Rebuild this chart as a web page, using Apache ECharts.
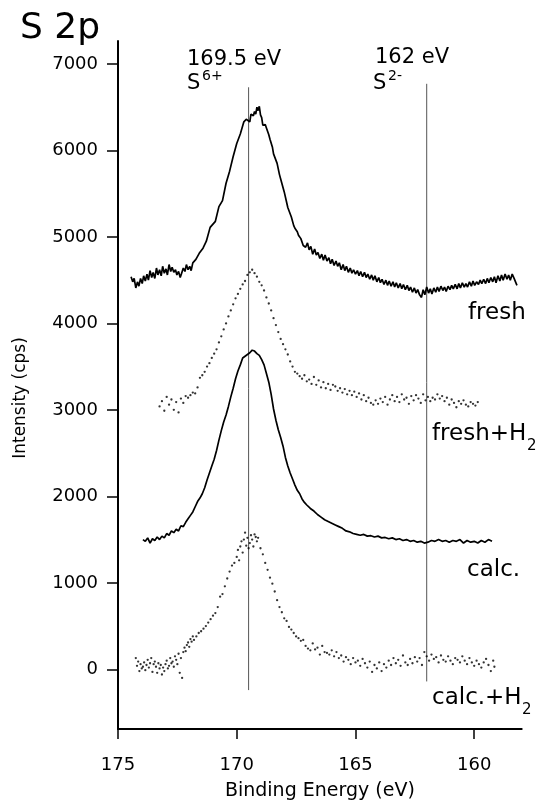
<!DOCTYPE html>
<html><head><meta charset="utf-8">
<script src="https://cdn.jsdelivr.net/npm/echarts@6/dist/echarts.min.js"></script>
<style>html,body{margin:0;padding:0;background:#fff}#c{width:537px;height:806px}</style>
</head><body><div id="c"></div>
<script>
// ---- data ----
var xTicks = [160, 165, 170, 175];
var yTicks = [0, 1000, 2000, 3000, 4000, 5000, 6000, 7000];

var freshE = [174.45,174.38,174.32,174.25,174.18,174.12,174.05,173.98,173.92,173.85,173.78,173.72,173.65,173.58,173.52,173.45,173.38,173.32,173.25,173.18,173.12,173.05,172.98,172.92,172.85,172.78,172.72,172.65,172.58,172.52,172.45,172.38,172.32,172.25,172.18,172.12,172.05,171.98,171.92,171.85,171.78,171.72,171.65,171.58,171.5,171.42,171.35,171.28,171.2,171.12,171.05,170.9,170.75,170.6,170.45,170.3,170.15,170.0,169.85,169.7,169.6,169.55,169.45,169.4,169.3,169.25,169.2,169.15,169.1,169.05,169.0,168.95,168.9,168.8,168.75,168.65,168.6,168.5,168.45,168.3,168.2,168.15,168.0,167.9,167.85,167.7,167.6,167.55,167.45,167.4,167.3,167.25,167.2,167.1,167.02,166.95,166.88,166.8,166.72,166.65,166.58,166.5,166.42,166.35,166.28,166.2,166.12,166.05,165.98,165.9,165.82,165.75,165.68,165.6,165.52,165.45,165.38,165.3,165.22,165.15,165.08,165.0,164.92,164.85,164.78,164.7,164.62,164.55,164.48,164.4,164.32,164.25,164.18,164.1,164.02,163.95,163.88,163.8,163.72,163.65,163.58,163.5,163.42,163.35,163.28,163.2,163.12,163.05,162.98,162.9,162.82,162.75,162.68,162.6,162.52,162.45,162.38,162.3,162.22,162.15,162.08,162.0,161.92,161.85,161.78,161.7,161.62,161.55,161.48,161.4,161.32,161.25,161.18,161.1,161.02,160.95,160.88,160.8,160.72,160.65,160.58,160.5,160.42,160.35,160.28,160.2,160.12,160.05,159.98,159.9,159.82,159.75,159.68,159.6,159.52,159.45,159.38,159.3,159.22,159.15,159.08,159.0,158.92,158.85,158.78,158.7,158.62,158.55,158.48,158.4,158.32,158.25,158.2];
var freshI = [4540,4480,4520,4410,4480,4430,4520,4460,4550,4490,4570,4500,4610,4530,4590,4520,4640,4560,4620,4550,4660,4580,4630,4560,4680,4600,4650,4590,4620,4560,4600,4530,4580,4640,4600,4680,4620,4660,4610,4700,4680,4740,4760,4810,4800,4870,4880,4950,4960,5110,5100,5180,5350,5420,5620,5760,5930,6080,6190,6330,6360,6380,6330,6420,6400,6450,6420,6500,6460,6510,6410,6380,6290,6300,6260,6180,6130,6040,5960,5850,5720,5670,5520,5400,5340,5230,5130,5100,5060,5020,4980,4960,4900,4880,4930,4850,4890,4800,4860,4790,4820,4750,4800,4730,4790,4720,4760,4690,4740,4670,4720,4660,4700,4620,4680,4610,4660,4590,4640,4580,4620,4570,4610,4550,4600,4540,4590,4530,4570,4510,4560,4500,4550,4480,4530,4470,4510,4450,4500,4440,4490,4430,4480,4420,4470,4410,4460,4400,4450,4390,4440,4380,4420,4360,4410,4350,4390,4330,4300,4390,4330,4420,4350,4400,4340,4410,4360,4420,4370,4430,4380,4420,4370,4430,4390,4440,4400,4450,4400,4460,4410,4470,4420,4460,4420,4480,4430,4490,4440,4480,4450,4500,4460,4510,4460,4520,4470,4530,4480,4540,4470,4550,4490,4560,4500,4570,4510,4560,4500,4570,4520,4540,4440];

var freshH2E = [173.25,173.15,173.05,172.95,172.85,172.75,172.65,172.55,172.45,172.35,172.25,172.15,172.05,171.95,171.85,171.75,171.65,171.55,171.45,171.35,171.25,171.15,171.05,170.95,170.85,170.75,170.65,170.55,170.45,170.35,170.25,170.15,170.05,169.95,169.85,169.75,169.65,169.55,169.45,169.35,169.25,169.15,169.05,168.95,168.85,168.75,168.65,168.55,168.45,168.35,168.25,168.15,168.05,167.95,167.85,167.75,167.65,167.55,167.45,167.35,167.25,167.15,167.05,166.95,166.85,166.75,166.65,166.55,166.45,166.35,166.25,166.15,166.05,165.95,165.85,165.75,165.65,165.55,165.45,165.35,165.25,165.15,165.05,164.95,164.85,164.75,164.65,164.55,164.45,164.35,164.25,164.15,164.05,163.95,163.85,163.75,163.65,163.55,163.45,163.35,163.25,163.15,163.05,162.95,162.85,162.75,162.65,162.55,162.45,162.35,162.25,162.15,162.05,161.95,161.85,161.75,161.65,161.55,161.45,161.35,161.25,161.15,161.05,160.95,160.85,160.75,160.65,160.55,160.45,160.35,160.25,160.15,160.05,159.95,159.85];
var freshH2I = [3040,3100,2990,3150,3060,3120,3000,3090,2970,3130,3080,3160,3140,3170,3200,3190,3260,3370,3400,3440,3500,3540,3600,3650,3700,3780,3850,3930,4000,4080,4150,4220,4290,4340,4400,4450,4490,4560,4590,4620,4580,4540,4480,4440,4380,4300,4230,4150,4060,3980,3900,3820,3760,3700,3640,3560,3500,3440,3420,3390,3360,3400,3330,3350,3300,3380,3290,3340,3260,3320,3250,3300,3230,3290,3270,3220,3250,3200,3240,3180,3220,3170,3210,3150,3190,3120,3170,3100,3140,3080,3060,3110,3070,3130,3090,3150,3060,3120,3170,3100,3150,3090,3180,3120,3140,3070,3160,3110,3170,3130,3080,3180,3110,3150,3100,3140,3120,3180,3130,3160,3100,3140,3060,3120,3080,3030,3100,3070,3110,3060,3040,3090,3070,3050,3090];

var calcE = [173.95,173.85,173.75,173.65,173.55,173.45,173.35,173.25,173.15,173.05,172.95,172.85,172.75,172.65,172.55,172.45,172.35,172.25,172.15,172.05,171.95,171.85,171.75,171.65,171.55,171.45,171.35,171.25,171.15,171.05,170.95,170.85,170.75,170.65,170.55,170.45,170.35,170.25,170.15,170.05,169.95,169.85,169.75,169.65,169.55,169.45,169.35,169.25,169.15,169.05,168.95,168.85,168.75,168.65,168.55,168.45,168.35,168.25,168.15,168.05,167.95,167.85,167.75,167.65,167.55,167.45,167.35,167.25,167.15,167.05,166.9,166.75,166.6,166.45,166.3,166.15,166.0,165.85,165.7,165.55,165.4,165.25,165.1,164.95,164.8,164.65,164.5,164.35,164.2,164.05,163.9,163.75,163.6,163.45,163.3,163.15,163.0,162.85,162.7,162.55,162.4,162.25,162.1,161.95,161.8,161.65,161.5,161.35,161.2,161.05,160.9,160.75,160.6,160.45,160.3,160.15,160.0,159.85,159.7,159.55,159.4,159.25];
var calcI = [1500,1480,1520,1460,1510,1490,1530,1500,1540,1520,1570,1550,1600,1580,1620,1600,1660,1650,1700,1740,1780,1820,1880,1940,1980,2030,2100,2190,2270,2350,2430,2530,2650,2760,2860,2940,3040,3150,3250,3360,3450,3520,3600,3620,3640,3660,3690,3680,3650,3630,3580,3520,3420,3320,3180,3010,2880,2770,2680,2580,2450,2350,2270,2200,2130,2070,2030,1970,1930,1900,1860,1830,1790,1760,1730,1710,1690,1670,1650,1630,1600,1590,1570,1560,1550,1560,1540,1545,1530,1540,1520,1525,1510,1520,1500,1510,1490,1500,1480,1490,1470,1480,1460,1470,1490,1480,1500,1480,1490,1470,1490,1480,1500,1460,1490,1470,1480,1460,1490,1470,1500,1480];

var calcH2E = [174.25,174.2,174.15,174.1,174.05,174.0,173.95,173.9,173.85,173.8,173.75,173.7,173.65,173.6,173.55,173.5,173.45,173.4,173.35,173.3,173.25,173.2,173.15,173.1,173.05,173.0,172.95,172.9,172.85,172.8,172.75,172.7,172.65,172.6,172.55,172.5,172.45,172.4,172.35,172.3,172.25,172.2,172.15,172.1,172.05,172.0,171.95,171.9,171.85,171.8,171.7,171.6,171.5,171.4,171.3,171.2,171.1,171.0,170.9,170.8,170.7,170.6,170.5,170.4,170.3,170.2,170.1,170.0,169.95,169.9,169.85,169.8,169.75,169.7,169.65,169.6,169.55,169.5,169.45,169.4,169.35,169.3,169.25,169.2,169.15,169.1,169.0,168.9,168.8,168.7,168.6,168.5,168.4,168.3,168.2,168.1,168.0,167.9,167.8,167.7,167.6,167.5,167.4,167.3,167.2,167.1,167.0,166.9,166.8,166.7,166.6,166.5,166.4,166.3,166.2,166.1,166.0,165.9,165.8,165.7,165.6,165.5,165.4,165.3,165.2,165.1,165.0,164.9,164.8,164.7,164.6,164.5,164.4,164.3,164.2,164.1,164.0,163.9,163.8,163.7,163.6,163.5,163.4,163.3,163.2,163.1,163.0,162.9,162.8,162.7,162.6,162.5,162.4,162.3,162.2,162.1,162.0,161.9,161.8,161.7,161.6,161.5,161.4,161.3,161.2,161.1,161.0,160.9,160.8,160.7,160.6,160.5,160.4,160.3,160.2,160.1,160.0,159.9,159.8,159.7,159.6,159.5,159.4,159.3,159.2,159.15];
var calcH2I = [130,40,90,-20,60,10,30,80,-10,50,110,20,70,130,-30,60,90,30,-40,70,10,50,-60,20,-20,60,100,10,40,130,70,90,30,150,110,60,180,-40,130,-100,200,250,210,280,310,260,350,320,380,340,380,420,440,470,500,540,580,620,650,720,840,870,960,1050,1130,1200,1230,1300,1380,1260,1420,1480,1350,1500,1580,1430,1520,1400,1460,1550,1500,1420,1560,1530,1480,1520,1400,1330,1230,1150,1060,990,900,800,720,660,590,560,490,460,420,380,360,330,340,270,240,220,300,230,250,170,270,200,190,170,220,150,200,130,160,90,140,110,60,130,80,100,40,120,70,20,90,-30,50,10,80,-20,60,20,100,50,130,70,110,40,160,80,50,120,70,140,90,130,50,200,150,100,170,120,140,80,160,110,90,150,100,60,130,110,80,150,100,60,130,80,40,100,60,20,80,120,50,-20,100,30];

// reference lines (S6+ at 169.5 eV, S2- at 162 eV)
var refE = [169.5, 162];
var refLow = [-240, -140];
var refHigh = [6730, 6770];

function zip(a, b) { return a.map(function (v, i) { return [v, b[i]]; }); }

var FONT = 'DejaVu Sans';
var chart = echarts.init(document.getElementById('c'), null, {renderer: 'canvas'});

var series = [];
refE.forEach(function (e, i) {
  series.push({
    type: 'line', data: [[e, refLow[i]], [e, refHigh[i]]], showSymbol: false, silent: true,
    lineStyle: {color: '#555', width: 1}, z: 1
  });
});
series.push({name: 'fresh', type: 'line', data: zip(freshE, freshI), showSymbol: false,
  lineStyle: {color: '#000', width: 1.7}, z: 3});
series.push({name: 'fresh+H2', type: 'scatter', data: zip(freshH2E, freshH2I), symbolSize: 2.3,
  itemStyle: {color: '#000'}, z: 3});
series.push({name: 'calc.', type: 'line', data: zip(calcE, calcI), showSymbol: false,
  lineStyle: {color: '#000', width: 1.7}, z: 3});
series.push({name: 'calc.+H2', type: 'scatter', data: zip(calcH2E, calcH2I), symbolSize: 2.3,
  itemStyle: {color: '#000'}, z: 3});

function txt(t, x, y, size, extra) {
  var s = {text: t, x: x, y: y, fill: '#000', font: size + 'px "' + FONT + '"', align: 'left', verticalAlign: 'middle'};
  if (extra) for (var k in extra) s[k] = extra[k];
  return {type: 'text', style: s, z: 10};
}

chart.setOption({
  animation: false,
  backgroundColor: '#fff',
  grid: {left: 118, right: 15.3, top: 41, bottom: 75.3, containLabel: false},
  xAxis: {
    type: 'value', min: 158, max: 175, inverse: true,
    name: 'Binding Energy (eV)', nameLocation: 'middle', nameGap: 53,
    nameTextStyle: {fontFamily: FONT, fontSize: 19, color: '#000'},
    axisLine: {onZero: false, lineStyle: {color: '#000', width: 2}},
    axisTick: {show: true, inside: false, length: 10, customValues: xTicks, lineStyle: {color: '#000', width: 1.5}},
    axisLabel: {customValues: xTicks, margin: 27, fontFamily: FONT, fontSize: 18, color: '#000'},
    splitLine: {show: false}
  },
  yAxis: {
    type: 'value', min: -690, max: 7265,
    axisLine: {show: true, onZero: false, lineStyle: {color: '#000', width: 2}},
    axisTick: {show: true, inside: false, length: 11, customValues: yTicks, lineStyle: {color: '#000', width: 1.5}},
    axisLabel: {customValues: yTicks, margin: 20, fontFamily: FONT, fontSize: 18, color: '#000',
      formatter: function (v) { return String(v); }},
    splitLine: {show: false}
  },
  graphic: [
    txt('S 2p', 20, 29, 36),
    {type: 'text', rotation: Math.PI / 2, x: 21, y: 398,
      style: {text: 'Intensity (cps)', fill: '#000', font: '17px "' + FONT + '"', align: 'center', verticalAlign: 'middle'}},
    txt('169.5 eV', 187, 60, 21),
    txt('S', 187, 84, 21),
    txt('6+', 202, 76, 14),
    txt('162 eV', 375, 58, 21),
    txt('S', 373, 84, 21),
    txt('2-', 388, 76, 14),
    txt('fresh', 468, 313, 23),
    txt('fresh+H', 432, 434, 23),
    txt('2', 527, 446, 15),
    txt('calc.', 467, 570, 23),
    txt('calc.+H', 432, 698, 23),
    txt('2', 522, 710, 15)
  ],
  series: series
});
</script></body></html>
